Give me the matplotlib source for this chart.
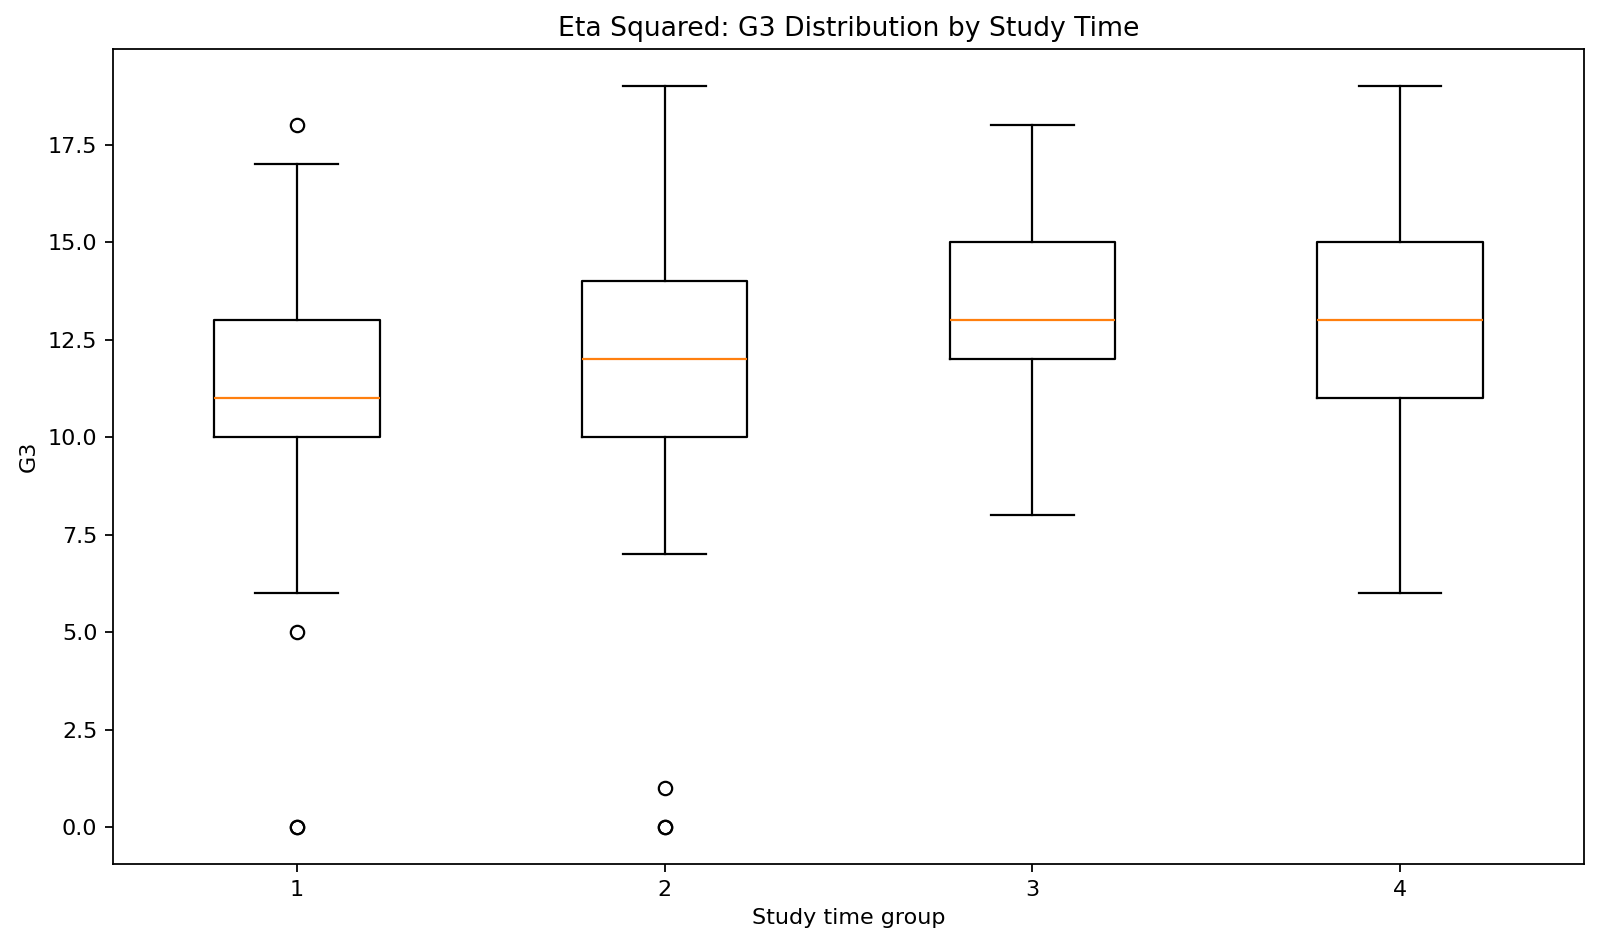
import matplotlib
matplotlib.use("Agg")
import matplotlib.pyplot as plt

# box statistics
groups = ["1", "2", "3", "4"]
whislo = [6, 7, 8, 6]
q1 = [10, 10, 12, 11]
med = [11, 12, 13, 13]
q3 = [13, 14, 15, 15]
whishi = [17, 19, 18, 19]
fliers = [[0, 0, 5, 18], [0, 0, 1], [], []]

stats = []
for i, g in enumerate(groups):
    stats.append(dict(label=g, whislo=whislo[i], q1=q1[i], med=med[i],
                      q3=q3[i], whishi=whishi[i], fliers=fliers[i]))

fig, ax = plt.subplots(figsize=(10, 5.94375), dpi=160)
ax.bxp(stats)
ax.set_title("Eta Squared: G3 Distribution by Study Time")
ax.set_xlabel("Study time group")
ax.set_ylabel("G3")

fig.subplots_adjust(left=0.0706, right=0.99, top=0.948, bottom=0.0915)
fig.savefig("out.png", dpi=160)
